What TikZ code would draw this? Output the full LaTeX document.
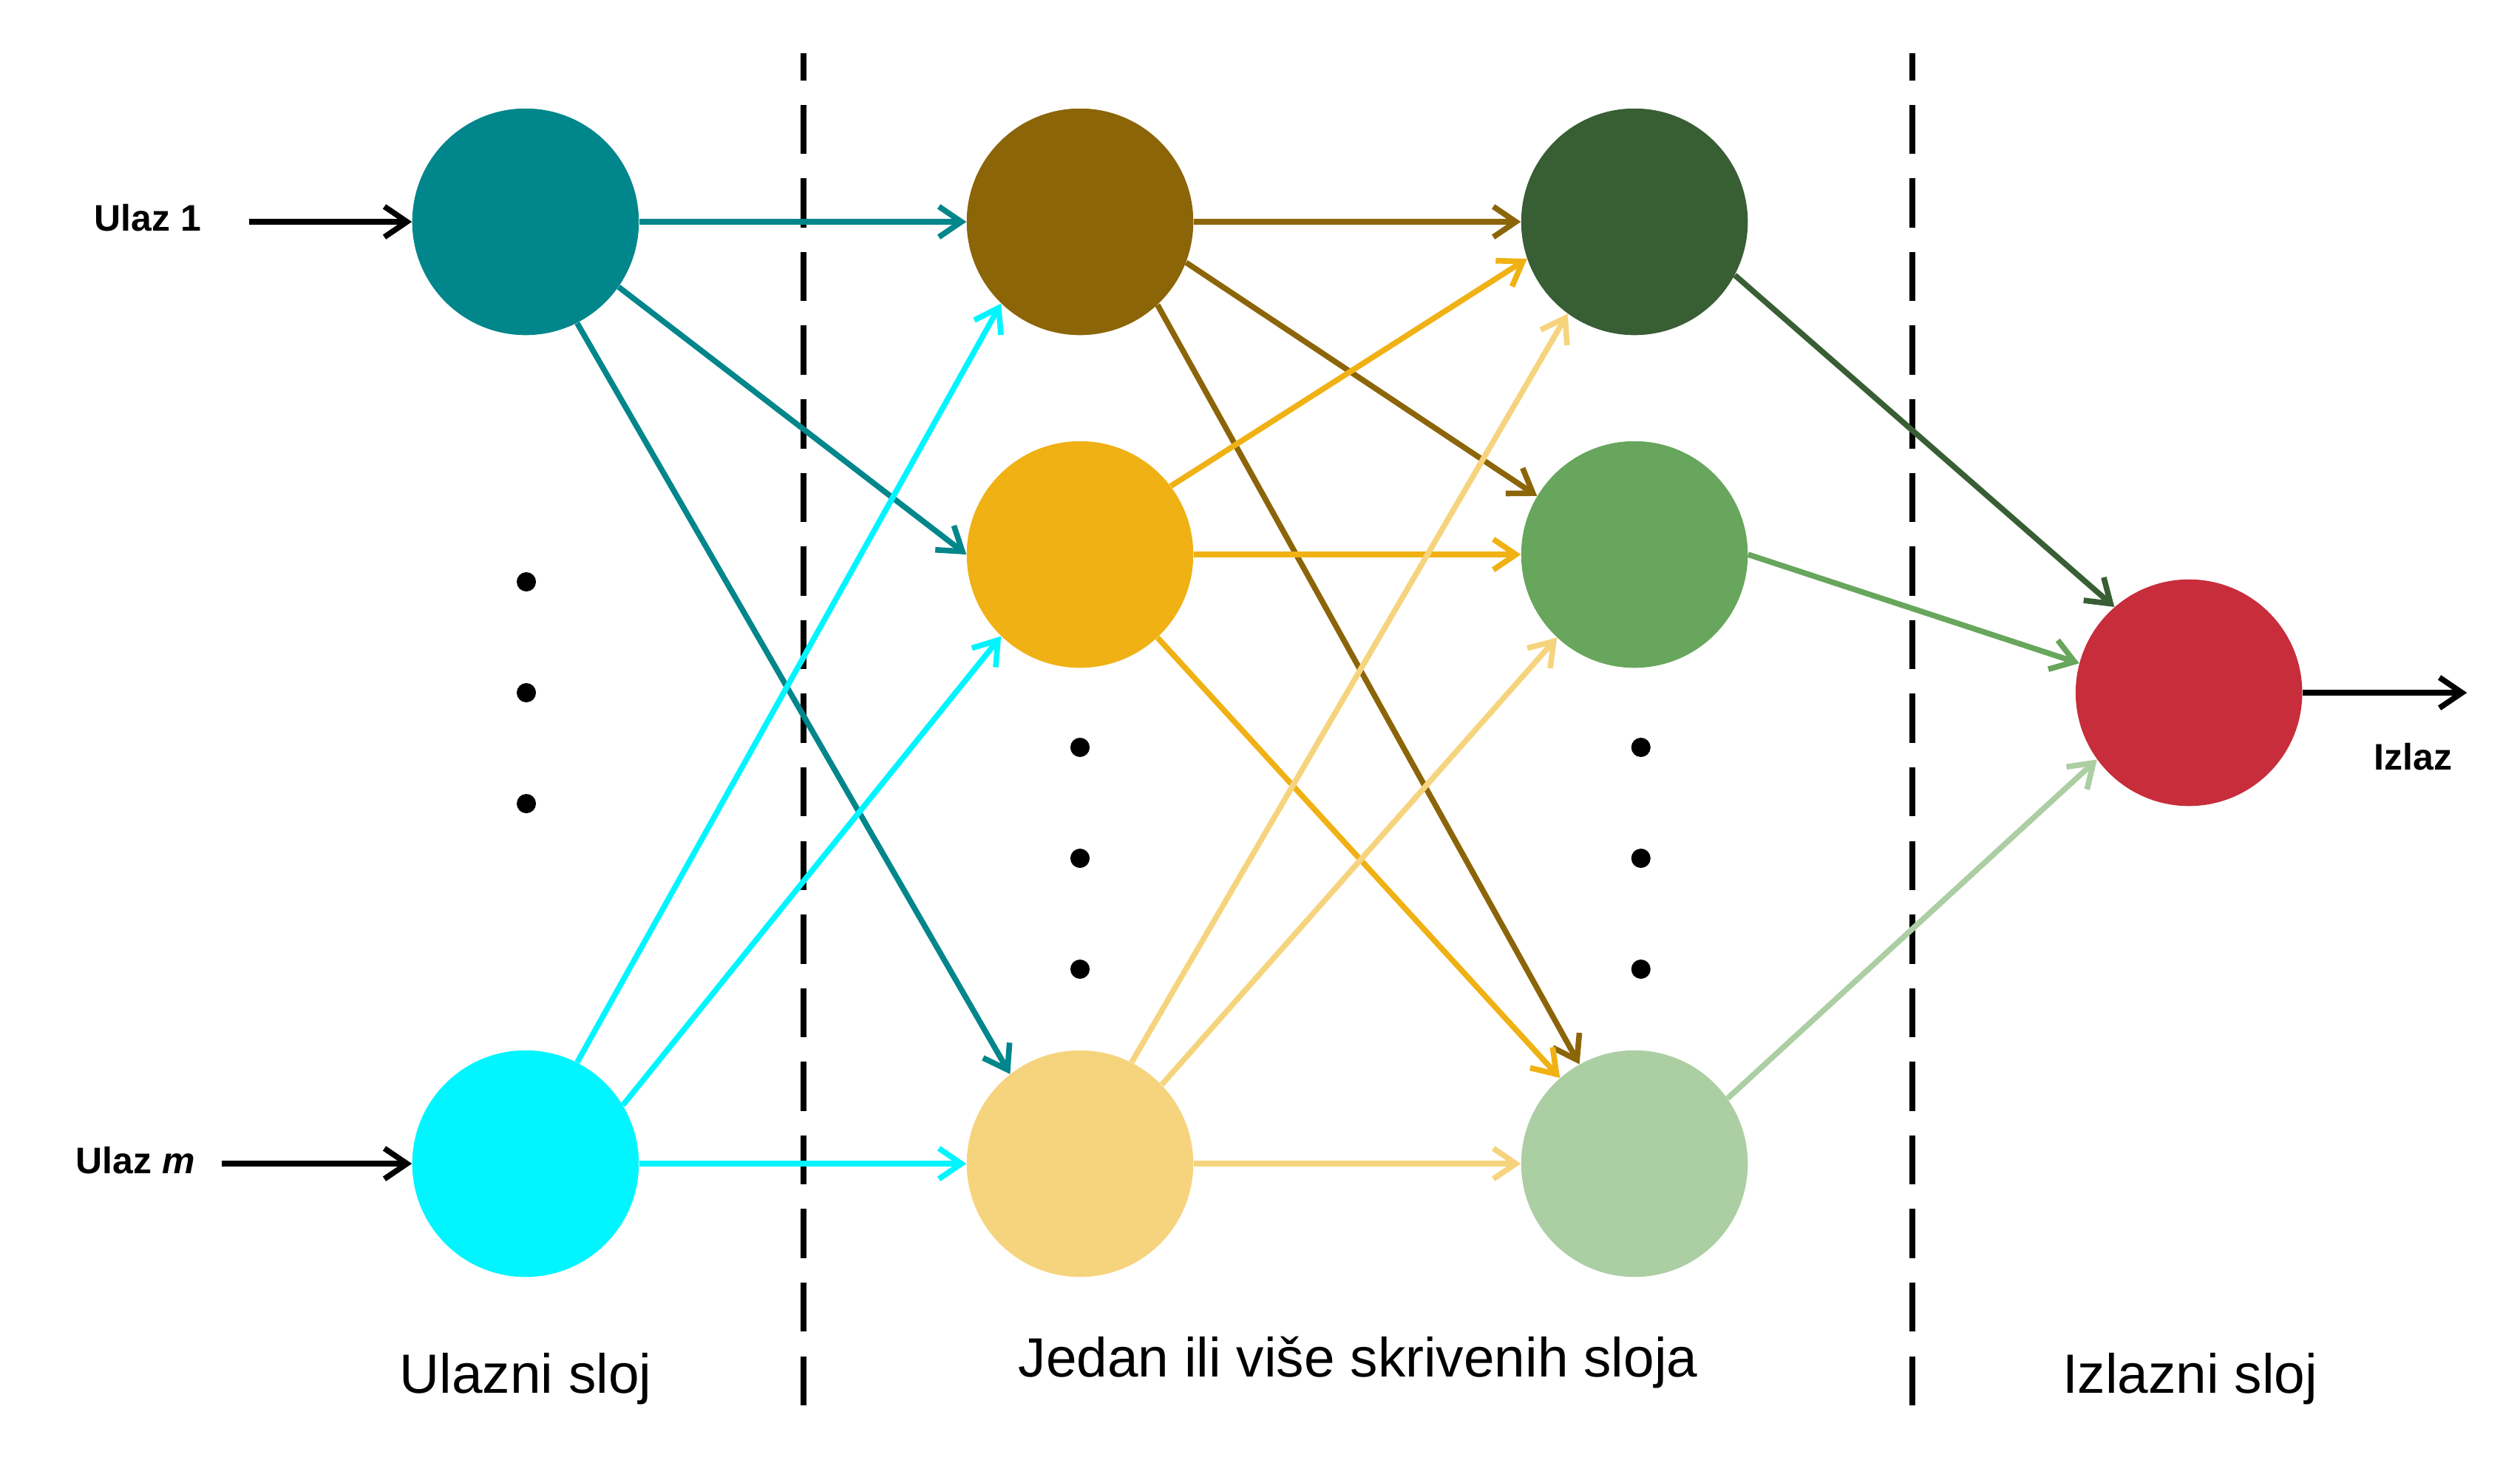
\documentclass[tikz,border=0pt]{standalone}
\usepackage{fontspec}
\setmainfont{Liberation Sans}
\usetikzlibrary{arrows.meta}
\definecolor{cteal}{HTML}{00868B}
\definecolor{ccyan}{HTML}{00F5FF}
\definecolor{cbrown}{HTML}{8B6508}
\definecolor{corange}{HTML}{F0B114}
\definecolor{cyellow}{HTML}{F6D47E}
\definecolor{cdgreen}{HTML}{385E34}
\definecolor{cgreen}{HTML}{67A65C}
\definecolor{clgreen}{HTML}{ACCEA3}
\definecolor{cred}{HTML}{C72D3B}
\tikzset{
  neuron/.style={circle,minimum size=141pt,inner sep=0pt,draw=none},
  conn/.style={line width=3.5pt,-{Straight Barb[length=14pt,width=19pt]}},
  smalllab/.style={inner sep=0pt,font=\fontsize{23}{27}\selectfont\bfseries},
  biglab/.style={inner sep=0pt,anchor=base,font=\fontsize{34.4}{40}\selectfont},
  sep/.style={line width=3.6pt,dash pattern=on 30.6pt off 15.2pt,dash phase=13.6pt},
  dotn/.style={circle,fill=black,minimum size=12pt,inner sep=0pt}
}
\begin{document}
\begin{tikzpicture}[x=1pt,y=-1pt]
\useasboundingbox (0,0) rectangle (1568,920.4);
% separators
\coordinate (sepAt) at (500,33);
\coordinate (sepAb) at (500,880);
\coordinate (sepBt) at (1190,33);
\coordinate (sepBb) at (1190,880);
\draw[sep] (sepAt) -- (sepAb);
\draw[sep] (sepBt) -- (sepBb);
% neurons
\node[neuron,fill=cteal] (in1) at (327,138) {};
\node[neuron,fill=ccyan] (im) at (327,724) {};
\node[neuron,fill=cbrown] (h1a) at (672,138) {};
\node[neuron,fill=corange] (h1b) at (672,345) {};
\node[neuron,fill=cyellow] (h1c) at (672,724) {};
\node[neuron,fill=cdgreen] (h2a) at (1017,138) {};
\node[neuron,fill=cgreen] (h2b) at (1017,345) {};
\node[neuron,fill=clgreen] (h2c) at (1017,724) {};
\node[neuron,fill=cred] (out) at (1362,431) {};
% dots
\node[dotn] (d1) at (327.5,362) {};
\node[dotn] (d2) at (327.5,431) {};
\node[dotn] (d3) at (327.5,500) {};
\node[dotn] (d4) at (672,465) {};
\node[dotn] (d5) at (672,534) {};
\node[dotn] (d6) at (672,603) {};
\node[dotn] (d7) at (1021,465) {};
\node[dotn] (d8) at (1021,534) {};
\node[dotn] (d9) at (1021,603) {};
% input arrows and labels
\node[smalllab,anchor=base west] (l1) at (58.6,143.8) {Ulaz 1};
\node[smalllab,anchor=base west] (lm) at (46.9,730.1) {Ulaz \textit{m}};
\node[smalllab,anchor=base west] (lo) at (1477,479.2) {Izlaz};
\coordinate (s1) at (155,138);
\coordinate (sm) at (138,724);
\coordinate (eo) at (1535,431);
\draw[conn,black] (s1) -- (in1);
\draw[conn,black] (sm) -- (im);
\draw[conn,black] (out) -- (eo);
% input -> hidden 1
\draw[conn,cteal] (in1.east) -- (h1a.west);
\draw[conn,cteal] (in1.-35.5) -- (h1b.west);
\draw[conn,cteal] (in1.-63) -- (h1c.128);
\draw[conn,ccyan] (im.63) -- (h1a.226);
\draw[conn,ccyan] (im.31) -- (h1b.226);
\draw[conn,ccyan] (im.east) -- (h1c.west);
% hidden 1 -> hidden 2
\draw[conn,cbrown] (h1a.east) -- (h2a.west);
\draw[conn,cbrown] (h1a.-21.5) -- (h2b.149);
\draw[conn,cbrown] (h1a.-47) -- (h2c.119);
\draw[conn,corange] (h1b.37) -- (h2a.199);
\draw[conn,corange] (h1b.east) -- (h2b.west);
\draw[conn,corange] (h1b.-47) -- (h2c.131);
\draw[conn,cyellow] (h1c.63) -- (h2a.234);
\draw[conn,cyellow] (h1c.44) -- (h2b.227);
\draw[conn,cyellow] (h1c.east) -- (h2c.west);
% hidden 2 -> output
\draw[conn,cdgreen] (h2a.-28) -- (out.131);
\draw[conn,cgreen] (h2b.east) -- (out.165);
\draw[conn,clgreen] (h2c.35) -- (out.216);
% layer labels
\node[biglab] (t1) at (327,866.6) {Ulazni sloj};
\node[biglab] (t2) at (845,856.8) {Jedan ili više skrivenih sloja};
\node[biglab] (t3) at (1362.7,866.6) {Izlazni sloj};
\end{tikzpicture}
\end{document}
